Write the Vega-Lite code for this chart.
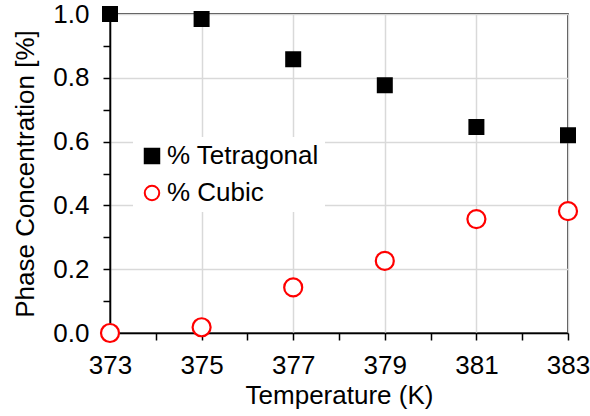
{
  "$schema": "https://vega.github.io/schema/vega-lite/v6.json",
  "width": 458,
  "height": 319,
  "autosize": {"type": "none"},
  "padding": {"left": 110, "top": 14, "right": 22, "bottom": 83},
  "background": "white",
  "config": {
    "font": "Liberation Sans",
    "view": {"stroke": "#000000", "strokeWidth": 1.5},
    "axis": {
      "domainColor": "#000000",
      "domainWidth": 1.5,
      "tickColor": "#000000",
      "tickWidth": 1.5,
      "tickSize": 7,
      "gridColor": "#d9d9d9",
      "gridWidth": 1.5,
      "labelFont": "Liberation Sans",
      "labelFontSize": 26,
      "labelColor": "#000000",
      "titleFont": "Liberation Sans",
      "titleFontSize": 26,
      "titleFontWeight": "normal",
      "titleColor": "#000000",
      "labelFlush": false,
      "labelOverlap": false
    },
    "legend": {
      "labelFont": "Liberation Sans",
      "labelFontSize": 26,
      "labelColor": "#000000"
    }
  },
  "data": {
    "values": [
      {"T": 373, "phase": "% Tetragonal", "value": 1.0},
      {"T": 375, "phase": "% Tetragonal", "value": 0.984},
      {"T": 377, "phase": "% Tetragonal", "value": 0.858},
      {"T": 379, "phase": "% Tetragonal", "value": 0.777},
      {"T": 381, "phase": "% Tetragonal", "value": 0.646},
      {"T": 383, "phase": "% Tetragonal", "value": 0.620},
      {"T": 373, "phase": "% Cubic", "value": 0.0},
      {"T": 375, "phase": "% Cubic", "value": 0.018},
      {"T": 377, "phase": "% Cubic", "value": 0.143},
      {"T": 379, "phase": "% Cubic", "value": 0.226},
      {"T": 381, "phase": "% Cubic", "value": 0.357},
      {"T": 383, "phase": "% Cubic", "value": 0.382}
    ]
  },
  "encoding": {
    "x": {
      "field": "T",
      "type": "quantitative",
      "title": "Temperature (K)",
      "scale": {"domain": [373, 383], "nice": false, "zero": false},
      "axis": {
        "values": [373, 374, 375, 376, 377, 378, 379, 380, 381, 382, 383],
        "labelExpr": "datum.value % 2 === 1 ? datum.label : ''",
        "gridOpacity": {"condition": {"test": "datum.value % 2 === 1", "value": 1}, "value": 0},
        "labelPadding": 12,
        "titlePadding": 4
      }
    },
    "y": {
      "field": "value",
      "type": "quantitative",
      "title": "Phase Concentration [%]",
      "scale": {"domain": [0, 1], "nice": false},
      "axis": {
        "values": [0, 0.1, 0.2, 0.3, 0.4, 0.5, 0.6, 0.7, 0.8, 0.9, 1.0],
        "labelExpr": "round(datum.value * 10) % 2 === 0 ? format(datum.value, '.1f') : ''",
        "gridOpacity": {"condition": {"test": "round(datum.value * 10) % 2 === 0", "value": 1}, "value": 0},
        "labelPadding": 14,
        "titlePadding": 14
      }
    },
    "shape": {
      "field": "phase",
      "type": "nominal",
      "scale": {"domain": ["% Tetragonal", "% Cubic"], "range": ["square", "circle"]},
      "legend": {
        "title": null,
        "orient": "none",
        "legendX": 23,
        "legendY": 123,
        "fillColor": "#ffffff",
        "padding": 6,
        "rowPadding": 11,
        "labelOffset": 2,
        "symbolSize": 210,
        "symbolStrokeWidth": 2
      }
    },
    "fill": {
      "field": "phase",
      "type": "nominal",
      "scale": {"domain": ["% Tetragonal", "% Cubic"], "range": ["#000000", "#ffffff"]}
    },
    "stroke": {
      "field": "phase",
      "type": "nominal",
      "scale": {"domain": ["% Tetragonal", "% Cubic"], "range": ["#000000", "#ff0000"]}
    }
  },
  "layer": [
    {
      "transform": [{"filter": "datum.phase === '% Tetragonal'"}],
      "mark": {"type": "point", "filled": false, "strokeWidth": 2, "opacity": 1, "size": 196}
    },
    {
      "transform": [{"filter": "datum.phase === '% Cubic'"}],
      "mark": {"type": "point", "filled": false, "strokeWidth": 2.2, "opacity": 1, "size": 324}
    }
  ]
}
